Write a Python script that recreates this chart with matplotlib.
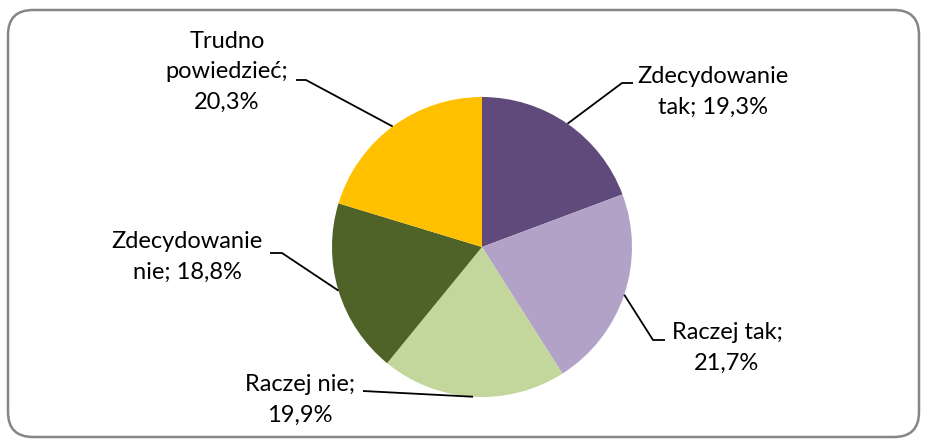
import numpy as np
import matplotlib
matplotlib.use("Agg")
import matplotlib.pyplot as plt
from matplotlib.patches import FancyBboxPatch

# ---- data ----
categories = ["Zdecydowanie tak", "Raczej tak", "Raczej nie", "Zdecydowanie nie", "Trudno powiedzieć"]
values = [19.3, 21.7, 19.9, 18.8, 20.3]
label_texts = ["Zdecydowanie\ntak; 19,3%", "Raczej tak;\n21,7%", "Raczej nie;\n19,9%",
               "Zdecydowanie\nnie; 18,8%", "Trudno\npowiedzieć;\n20,3%"]
colors = ["#604A7B", "#B3A2C7", "#C3D69B", "#4F6228", "#FFC000"]

W, H = 928, 446
plt.rcParams['font.family'] = ['Lato', 'DejaVu Sans']

fig = plt.figure(figsize=(W / 100, H / 100), dpi=100)
ax = fig.add_axes([0, 0, 1, 1])
ax.set_xlim(0, W)
ax.set_ylim(0, H)
ax.set_aspect('equal')
ax.axis('off')

def py(y):
    return H - y

# border
border = FancyBboxPatch((8, py(437)), 911, 427, boxstyle="round,pad=0,rounding_size=25",
                        fc="white", ec="#868686", lw=1.8, zorder=0)
ax.add_patch(border)

center = (482, py(247))
radius = 150
wedges, _ = ax.pie(values, colors=colors, startangle=90, counterclock=False,
                   center=center, radius=radius, frame=True,
                   wedgeprops=dict(linewidth=0))
ax.set_xlim(0, W)
ax.set_ylim(0, H)
ax.axis('off')

# label layout (pixels): text center, leader path points (after the arc point)
text_pos = [(713, 92), (727, 348), (300, 400), (187, 257), (227, 72)]
leader_pts = [[(622, 83), (633, 83)],
              [(653, 340), (665, 340)],
              [(363, 391)],
              [(282, 253), (270, 253)],
              [(306, 80), (296, 80)]]

for w, txt, tp, pts in zip(wedges, label_texts, text_pos, leader_pts):
    ang = np.deg2rad((w.theta1 + w.theta2) / 2)
    x0 = w.center[0] + w.r * np.cos(ang)
    y0 = w.center[1] + w.r * np.sin(ang)
    xs = [x0] + [p[0] for p in pts]
    ys = [y0] + [py(p[1]) for p in pts]
    ax.plot(xs, ys, color="black", lw=1.3, solid_capstyle='butt', zorder=3)
    ax.text(tp[0], py(tp[1]), txt, ha="center", va="center", fontsize=17,
            linespacing=1.55, color="black", zorder=4)

fig.savefig("out.png", dpi=100)
